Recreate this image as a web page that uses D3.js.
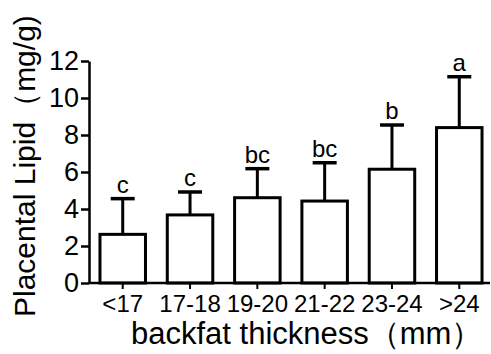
<!DOCTYPE html>
<html>
<head>
<meta charset="utf-8">
<script src="https://cdn.jsdelivr.net/npm/d3@7"></script>
<style>
  body { margin: 0; background: #fff; }
  text { font-family: "Liberation Sans", Arial, sans-serif; fill: #000; }
</style>
</head>
<body>
<div id="rootDiv"></div>
<script>
const width = 491
const height = 354

const categories = ["<17", "17-18", "19-20", "21-22", "23-24", ">24"]
const means = [2.63, 3.68, 4.61, 4.43, 6.15, 8.4]
const sds = [1.93, 1.24, 1.57, 2.07, 2.39, 2.75]
const letters = ["c", "c", "bc", "bc", "b", "a"]
const yTicks = [0, 2, 4, 6, 8, 10, 12]

const svg = d3.select("#rootDiv")
    .append("svg")
    .attr("width", width)
    .attr("height", height)

const x = d3.scaleBand()
    .domain(categories)
    .range([89, 493])
    .paddingInner(0.324)
    .paddingOuter(0.163)

const y = d3.scaleLinear()
    .domain([0, 12])
    .range([283, 61])

// bars
svg.selectAll(".bar")
    .data(categories)
    .enter()
    .append("rect")
    .attr("x", d => x(d))
    .attr("y", (d, i) => y(means[i]))
    .attr("width", x.bandwidth())
    .attr("height", (d, i) => y(0) - y(means[i]))
    .attr("fill", "#fff")
    .attr("stroke", "#000")
    .attr("stroke-width", 3)

// error bars (upper only)
const capW = 24
categories.forEach((c, i) => {
    const cx = x(c) + x.bandwidth() / 2
    const top = y(means[i] + sds[i])
    svg.append("line")
        .attr("x1", cx).attr("x2", cx)
        .attr("y1", y(means[i])).attr("y2", top)
        .attr("stroke", "#000").attr("stroke-width", 3)
    svg.append("line")
        .attr("x1", cx - capW / 2).attr("x2", cx + capW / 2)
        .attr("y1", top).attr("y2", top)
        .attr("stroke", "#000").attr("stroke-width", 3.5)
    svg.append("text")
        .attr("x", cx)
        .attr("y", top - 6)
        .attr("text-anchor", "middle")
        .style("font-size", "24px")
        .text(letters[i])
})

// y axis
const yAxis = svg.append("g")
    .attr("transform", "translate(89,0)")
    .call(d3.axisLeft(y).tickValues(yTicks).tickSize(8).tickPadding(2).tickSizeOuter(0))
yAxis.select(".domain").attr("stroke-width", 2.5)
yAxis.selectAll(".tick line").attr("stroke-width", 2.5)
yAxis.selectAll(".tick text").style("font-size", "27px").attr("fill", "#000")

// x axis
const xAxis = svg.append("g")
    .attr("transform", "translate(0,283)")
    .call(d3.axisBottom(x).tickSize(6).tickPadding(6).tickSizeOuter(0))
xAxis.select(".domain").attr("stroke-width", 2.5).attr("d", "M89,0H490")
xAxis.selectAll(".tick line").attr("stroke-width", 2)
xAxis.selectAll(".tick text").style("font-size", "24px").attr("fill", "#000")

// axis titles
svg.append("text")
    .attr("transform", "translate(35,317) rotate(-90)")
    .attr("text-anchor", "start")
    .style("font-size", "30px")
    .text("Placental Lipid（mg/g)")

svg.append("text")
    .attr("x", 131)
    .attr("y", 344)
    .attr("text-anchor", "start")
    .style("font-size", "31px")
    .text("backfat thickness（mm）")
</script>
</body>
</html>
